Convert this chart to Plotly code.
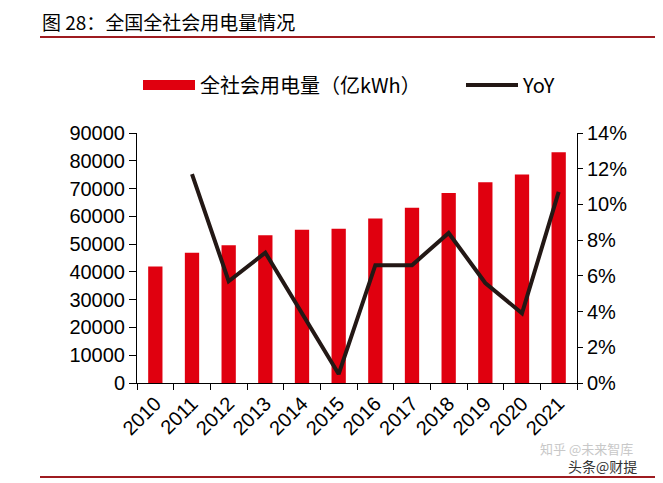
import plotly.graph_objects as go

years = ["2010", "2011", "2012", "2013", "2014", "2015", "2016", "2017", "2018", "2019", "2020", "2021"]
consumption = [41900, 46900, 49600, 53200, 55200, 55500, 59200, 63100, 68400, 72300, 75100, 83100]
yoy = [None, 11.7, 5.7, 7.3, 3.9, 0.5, 6.6, 6.6, 8.4, 5.6, 3.9, 10.7]

left_ticks = [0, 10000, 20000, 30000, 40000, 50000, 60000, 70000, 80000, 90000]
right_ticks = [0, 2, 4, 6, 8, 10, 12, 14]
right_labels = [f"{v}%" for v in right_ticks]

OFF = 8  # page body margin
W, H = 663 - OFF, 483 - OFF
L, R, T, B = 137 - OFF, 86, 133 - OFF, 100
pw, ph = W - L - R, H - T - B

def px(x):
    return (x - OFF - L) / pw

def py(y):
    return (H - B - (y - OFF)) / ph

font = "Liberation Sans, Arial, sans-serif"
cjk = "Noto Sans CJK SC, sans-serif"
RED = "#E0000F"
BLACK = "#231815"

fig = go.Figure()
fig.add_trace(go.Bar(
    x=years, y=consumption, name="全社会用电量（亿kWh）",
    marker=dict(color=RED, line=dict(width=0)),
    yaxis="y", showlegend=False,
))
# legend entry drawn as a wide red block, like the reference
fig.add_trace(go.Scatter(
    x=[None], y=[None], name="全社会用电量（亿kWh）", mode="lines",
    line=dict(color=RED, width=10), yaxis="y", hoverinfo="skip", legend="legend",
))
fig.add_trace(go.Scatter(
    x=years, y=yoy, name="YoY", mode="lines",
    line=dict(color=BLACK, width=4),
    yaxis="y2", connectgaps=False, legend="legend2",
))

legend_common = dict(
    orientation="h", xanchor="left", yanchor="middle",
    font=dict(family=cjk, size=20, color="#000000"),
    bgcolor="rgba(0,0,0,0)", itemwidth=52,
)

fig.update_layout(
    width=W, height=H,
    margin=dict(l=L, r=R, t=T, b=B, autoexpand=False),
    paper_bgcolor="white", plot_bgcolor="white",
    bargap=0.61,
    font=dict(family=font, size=20, color="#000000"),
    legend=dict(x=px(138), y=py(85), **legend_common),
    legend2=dict(x=px(461), y=py(85), **legend_common),
    xaxis=dict(
        type="category", showline=True, linecolor="#000000", linewidth=1,
        ticks="outside", ticklen=6, tickcolor="#000000", tickson="boundaries",
        tickangle=-45, showgrid=False, zeroline=False,
        tickfont=dict(family=font, size=20),
    ),
    yaxis=dict(
        range=[0, 90000], tickvals=left_ticks, ticktext=[str(v) for v in left_ticks],
        showline=True, linecolor="#000000", linewidth=1,
        ticks="outside", ticklen=7, tickcolor="#000000",
        showgrid=False, zeroline=False, tickfont=dict(family=font, size=20),
    ),
    yaxis2=dict(
        range=[0, 14], tickvals=right_ticks, ticktext=right_labels,
        overlaying="y", side="right",
        showline=True, linecolor="#000000", linewidth=1,
        ticks="outside", ticklen=5, tickcolor="#000000",
        showgrid=False, zeroline=False, tickfont=dict(family=font, size=20),
    ),
    shapes=[
        dict(type="line", xref="paper", yref="paper", x0=px(40), x1=px(663), y0=py(37), y1=py(37),
             line=dict(color="#9E1B20", width=2)),
        dict(type="line", xref="paper", yref="paper", x0=px(40), x1=px(663), y0=py(477), y1=py(477),
             line=dict(color="#9E1B20", width=2)),
    ],
    annotations=[
        dict(text="图 28：全国全社会用电量情况", xref="paper", yref="paper", x=px(40), y=py(21),
             xanchor="left", yanchor="middle", showarrow=False,
             font=dict(family=cjk, size=19, color="#000000")),
        dict(text="知乎 @未来智库", xref="paper", yref="paper", x=px(538), y=py(448),
             xanchor="left", yanchor="middle", showarrow=False,
             font=dict(family=cjk, size=13, color="#C8C8C8")),
        dict(text="头条@财提", xref="paper", yref="paper", x=px(566), y=py(466),
             xanchor="left", yanchor="middle", showarrow=False,
             font=dict(family=cjk, size=14, color="#333333")),
    ],
)

fig.write_html("out.html")
